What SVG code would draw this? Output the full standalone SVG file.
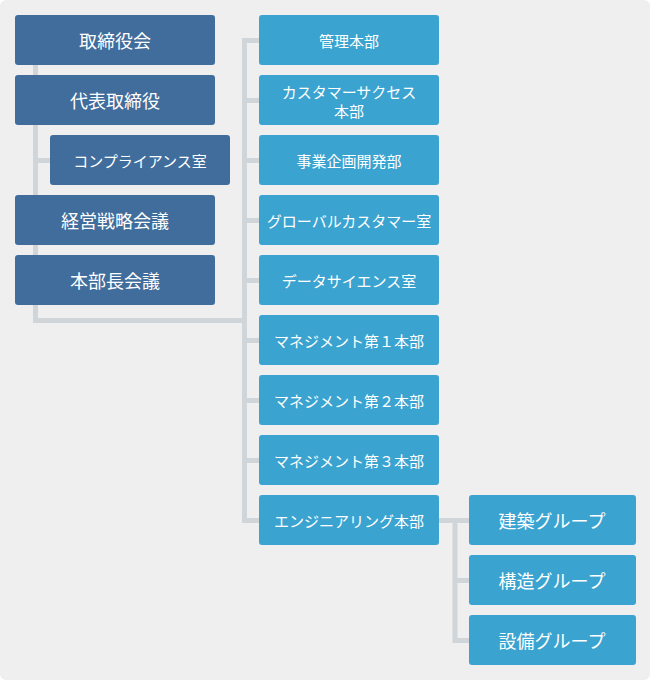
<svg xmlns="http://www.w3.org/2000/svg" width="650" height="680" viewBox="0 0 650 680">
<style>
.d{fill:#416d9c}.l{fill:#3ba3d0}
text{font-family:"Noto Sans CJK JP","Noto Sans",sans-serif;fill:#fff;text-anchor:middle;dominant-baseline:central}
.b{font-size:18px}.s{font-size:15px}
.c{stroke:#d0d5da;stroke-width:5;fill:none}
</style>
<rect x="0" y="0" width="650" height="680" rx="6" fill="#efefef"/>
<g id="connectors">
<path class="c" d="M35.5 65V320.5H244.5M244.5 38V520.5H259M244.5 40.5H259M244.5 100.5H259M244.5 160.5H259M244.5 220.5H259M244.5 280.5H259M244.5 340.5H259M244.5 400.5H259M244.5 460.5H259M35.5 160.5H50"/>
<path class="c" d="M439 520.5H469M455 520.5V640.5H469M455 580.5H469"/>
</g>
<g id="n1"><rect class="d" x="15" y="15" width="200" height="50" rx="3"/><text class="b" x="115" y="40">取締役会</text></g>
<g id="n2"><rect class="d" x="15" y="75" width="200" height="50" rx="3"/><text class="b" x="115" y="100">代表取締役</text></g>
<g id="n3"><rect class="d" x="50" y="135" width="180" height="50" rx="3"/><text class="s" x="140" y="160">コンプライアンス室</text></g>
<g id="n4"><rect class="d" x="15" y="195" width="200" height="50" rx="3"/><text class="b" x="115" y="220">経営戦略会議</text></g>
<g id="n5"><rect class="d" x="15" y="255" width="200" height="50" rx="3"/><text class="b" x="115" y="280">本部長会議</text></g>
<g id="r1"><rect class="l" x="259" y="15" width="180" height="50" rx="3"/><text class="s" x="349" y="40">管理本部</text></g>
<g id="r2"><rect class="l" x="259" y="75" width="180" height="50" rx="3"/><text class="s" x="349" y="91">カスタマーサクセス</text><text class="s" x="349" y="110">本部</text></g>
<g id="r3"><rect class="l" x="259" y="135" width="180" height="50" rx="3"/><text class="s" x="349" y="160">事業企画開発部</text></g>
<g id="r4"><rect class="l" x="259" y="195" width="180" height="50" rx="3"/><text class="s" x="349" y="220">グローバルカスタマー室</text></g>
<g id="r5"><rect class="l" x="259" y="255" width="180" height="50" rx="3"/><text class="s" x="349" y="280">データサイエンス室</text></g>
<g id="r6"><rect class="l" x="259" y="315" width="180" height="50" rx="3"/><text class="s" x="349" y="340">マネジメント第１本部</text></g>
<g id="r7"><rect class="l" x="259" y="375" width="180" height="50" rx="3"/><text class="s" x="349" y="400">マネジメント第２本部</text></g>
<g id="r8"><rect class="l" x="259" y="435" width="180" height="50" rx="3"/><text class="s" x="349" y="460">マネジメント第３本部</text></g>
<g id="r9"><rect class="l" x="259" y="495" width="180" height="50" rx="3"/><text class="s" x="349" y="520">エンジニアリング本部</text></g>
<g id="g1"><rect class="l" x="469" y="495" width="167" height="50" rx="3"/><text class="b" x="552" y="520">建築グループ</text></g>
<g id="g2"><rect class="l" x="469" y="555" width="167" height="50" rx="3"/><text class="b" x="552" y="580">構造グループ</text></g>
<g id="g3"><rect class="l" x="469" y="615" width="167" height="50" rx="3"/><text class="b" x="552" y="640">設備グループ</text></g>
</svg>
